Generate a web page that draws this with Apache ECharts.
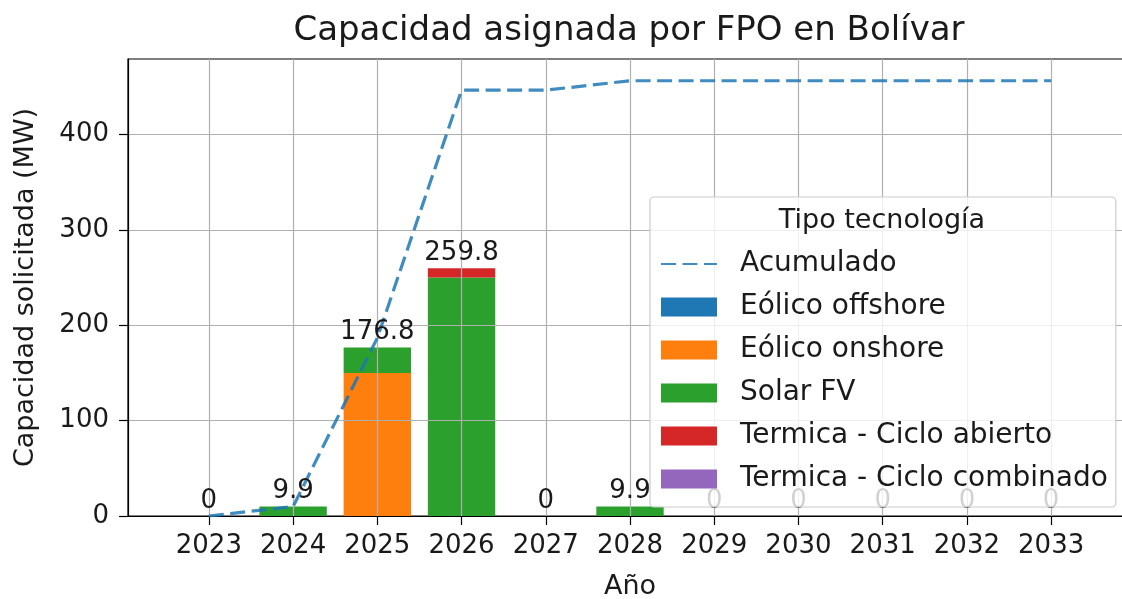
<!DOCTYPE html>
<html>
<head>
<meta charset="utf-8">
<script src="https://cdn.jsdelivr.net/npm/echarts@6/dist/echarts.min.js"></script>
<style>
html,body{margin:0;padding:0;background:#fff;}
#c{width:1122px;height:599px;}
</style>
</head>
<body>
<div id="c"></div>
<script>
const years = [2023, 2024, 2025, 2026, 2027, 2028, 2029, 2030, 2031, 2032, 2033];
const eolicoOffshore = [0, 0, 0, 0, 0, 0, 0, 0, 0, 0, 0];
const eolicoOnshore = [0, 0, 150, 0, 0, 0, 0, 0, 0, 0, 0];
const solarFV = [0, 9.9, 26.8, 250, 0, 9.9, 0, 0, 0, 0, 0];
const termicaAbierto = [0, 0, 0, 9.8, 0, 0, 0, 0, 0, 0, 0];
const termicaCombinado = [0, 0, 0, 0, 0, 0, 0, 0, 0, 0, 0];
const acumulado = [0, 9.9, 186.7, 446.5, 446.5, 456.4, 456.4, 456.4, 456.4, 456.4, 456.4];
const totals = [0, 9.9, 176.8, 259.8, 0, 9.9, 0, 0, 0, 0, 0];
const yTicks = [0, 100, 200, 300, 400];

const FONT = 'DejaVu Sans';
const TXT = '#1a1a1a';
const X_MIN = 2022.04, X_MAX = 2033.96, Y_MAX = 479.2;
const G_LEFT = 128, G_RIGHT_PX = 1132, G_TOP = 59, G_BOTTOM = 83;
const pxPerYear = (G_RIGHT_PX - G_LEFT) / (X_MAX - X_MIN);
const catLeft = G_LEFT + (years[0] - 0.5 - X_MIN) * pxPerYear;
const catRight = 1122 - (G_LEFT + (years[years.length - 1] + 0.5 - X_MIN) * pxPerYear);

const barSeries = (name, data, color) => ({
  name, type: 'bar', stack: 'total', data, barWidth: '80%',
  xAxisIndex: 1, yAxisIndex: 1,
  itemStyle: { color }, z: 2
});

const chart = echarts.init(document.getElementById('c'), null, { renderer: 'canvas' });
chart.setOption({
  animation: false,
  backgroundColor: '#fff',
  textStyle: { fontFamily: FONT },
  title: {
    text: 'Capacidad asignada por FPO en Bolívar',
    left: 624, top: 9, textAlign: 'center',
    textStyle: { fontFamily: FONT, fontSize: 34, fontWeight: 'normal', color: TXT }
  },
  grid: [
    { left: G_LEFT, right: 1122 - G_RIGHT_PX, top: G_TOP, bottom: G_BOTTOM, containLabel: false, outerBoundsMode: 'none',
      show: true, borderColor: '#000', borderWidth: 1.2, backgroundColor: 'transparent' },
    { left: catLeft, right: catRight, top: G_TOP, bottom: G_BOTTOM, containLabel: false, outerBoundsMode: 'none' }
  ],
  xAxis: [{
    type: 'value', gridIndex: 0, min: X_MIN, max: X_MAX, z: 3,
    name: 'Año', nameLocation: 'middle', nameGap: 57,
    nameTextStyle: { fontFamily: FONT, fontSize: 27, color: TXT },
    axisLine: { show: true, lineStyle: { color: '#000', width: 1.2 } },
    axisTick: { show: true, length: 9, lineStyle: { color: '#000', width: 1.2 }, customValues: years },
    axisLabel: { customValues: years, margin: 17, fontFamily: FONT, fontSize: 26, color: TXT, formatter: v => String(v) },
    splitLine: { show: true, lineStyle: { color: '#b0b0b0', width: 1.2 } }
  }, {
    type: 'category', gridIndex: 1, data: years.map(String), boundaryGap: true, show: false
  }],
  yAxis: [{
    type: 'value', gridIndex: 0, min: 0, max: Y_MAX, z: 3,
    name: 'Capacidad solicitada (MW)', nameLocation: 'middle', nameGap: 89,
    nameTextStyle: { fontFamily: FONT, fontSize: 27, color: TXT },
    axisLine: { show: true, lineStyle: { color: '#000', width: 1.2 } },
    axisTick: { show: true, length: 9, lineStyle: { color: '#000', width: 1.2 }, customValues: yTicks },
    axisLabel: { customValues: yTicks, margin: 19, fontFamily: FONT, fontSize: 26, color: TXT },
    splitLine: { show: true, lineStyle: { color: '#b0b0b0', width: 1.2 } }
  }, {
    type: 'value', gridIndex: 1, min: 0, max: Y_MAX, show: false
  }],
  legend: {
    orient: 'vertical', left: 650, top: 197, z: 10,
    padding: [53, 8, 14, 10],
    itemWidth: 56, itemHeight: 19, itemGap: 15,
    backgroundColor: 'rgba(255,255,255,0.8)', borderColor: '#cccccc', borderWidth: 1.2, borderRadius: 4,
    textStyle: { fontFamily: FONT, fontSize: 28, lineHeight: 27, color: TXT, padding: [0, 0, 0, 18] },
    data: [
      { name: 'Acumulado', itemStyle: { opacity: 0 } },
      { name: 'Eólico offshore', icon: 'rect' },
      { name: 'Eólico onshore', icon: 'rect' },
      { name: 'Solar FV', icon: 'rect' },
      { name: 'Termica - Ciclo abierto', icon: 'rect' },
      { name: 'Termica - Ciclo combinado', icon: 'rect' }
    ]
  },
  graphic: [{
    type: 'text', x: 882, y: 221, z: 100,
    style: { text: 'Tipo tecnología', align: 'center', verticalAlign: 'middle', font: '27px "DejaVu Sans"', fill: TXT }
  }],
  series: [
    {
      name: 'Acumulado', type: 'line', data: acumulado, symbol: 'none', z: 4,
      xAxisIndex: 1, yAxisIndex: 1,
      lineStyle: { color: '#1f77b4', width: 3.2, type: [15, 6.5], opacity: 0.85 },
      itemStyle: { color: '#1f77b4' }
    },
    barSeries('Eólico offshore', eolicoOffshore, '#1f77b4'),
    barSeries('Eólico onshore', eolicoOnshore, '#ff7f0e'),
    barSeries('Solar FV', solarFV, '#2ca02c'),
    barSeries('Termica - Ciclo abierto', termicaAbierto, '#d62728'),
    barSeries('Termica - Ciclo combinado', termicaCombinado, '#9467bd'),
    {
      name: 'totales', type: 'bar', stack: 'total', data: totals.map(() => 0), barWidth: '80%',
      xAxisIndex: 1, yAxisIndex: 1, z: 5, silent: true, itemStyle: { color: 'transparent' },
      label: {
        show: true, position: 'top', distance: 2, fontFamily: FONT, fontSize: 26, color: TXT,
        formatter: p => String(totals[p.dataIndex])
      }
    }
  ]
});
</script>
</body>
</html>
